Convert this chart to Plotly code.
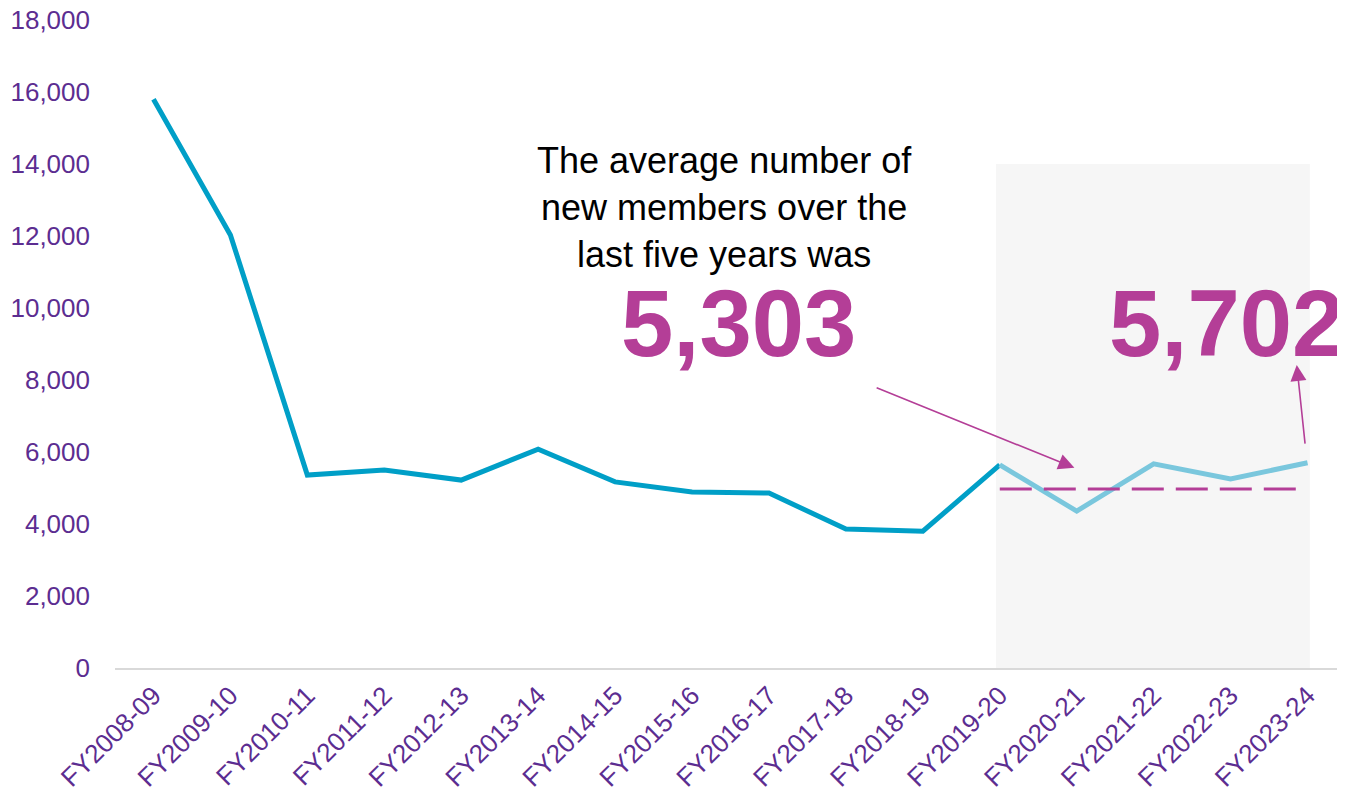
import plotly.graph_objects as go

# data
years = ["FY2008-09", "FY2009-10", "FY2010-11", "FY2011-12", "FY2012-13",
         "FY2013-14", "FY2014-15", "FY2015-16", "FY2016-17", "FY2017-18",
         "FY2018-19", "FY2019-20", "FY2020-21", "FY2021-22", "FY2022-23",
         "FY2023-24"]
new_members = [15800, 12030, 5360, 5500, 5220, 6080, 5170, 4890, 4860, 3860,
               3800, 5640, 4360, 5670, 5250, 5702]
recent_years = years[11:]
recent_members = new_members[11:]
avg_line = [4970] * len(recent_years)
avg_label = "5,303"
latest_label = "5,702"
y_ticks = [0, 2000, 4000, 6000, 8000, 10000, 12000, 14000, 16000, 18000]

PURPLE = "#B43E97"
TICK = "#5C2D91"
FONT = "Liberation Sans, Arial"

fig = go.Figure()

fig.add_trace(go.Scatter(
    x=years[:12], y=new_members[:12], mode="lines",
    line=dict(color="#009FC7", width=5), hoverinfo="skip"
))
fig.add_trace(go.Scatter(
    x=recent_years, y=recent_members, mode="lines",
    line=dict(color="#7AC7DD", width=5), hoverinfo="skip"
))
fig.add_trace(go.Scatter(
    x=recent_years, y=avg_line, mode="lines",
    line=dict(color=PURPLE, width=3, dash="32px,12px"), hoverinfo="skip"
))

# shaded box behind the last five years
fig.add_shape(type="rect", xref="x", yref="y", x0=10.95, x1=15.03,
              y0=0, y1=14000, fillcolor="#F6F6F6", line_width=0, layer="below")

fig.add_annotation(
    x=7.42, y=12780, xref="x", yref="y", showarrow=False,
    text="The average number of<br>new members over the<br>last five years was",
    font=dict(family=FONT, size=36, color="black"),
    align="center"
)
fig.add_annotation(
    x=7.6, y=9560, xref="x", yref="y", showarrow=False, text=avg_label,
    font=dict(family=FONT, size=94, color=PURPLE, weight=900)
)
fig.add_annotation(
    x=12.39, y=9560, xref="x", yref="y", showarrow=False, xanchor="left",
    text=latest_label,
    font=dict(family=FONT, size=94, color=PURPLE, weight=900)
)

# arrows
fig.add_annotation(x=11.97, y=5560, ax=9.38, ay=7800, xref="x", yref="y",
                   axref="x", ayref="y", text="", showarrow=True,
                   arrowhead=2, arrowsize=2, arrowwidth=1.6, arrowcolor=PURPLE)
fig.add_annotation(x=14.86, y=8420, ax=14.97, ay=6190, xref="x", yref="y",
                   axref="x", ayref="y", text="", showarrow=True,
                   arrowhead=2, arrowsize=2, arrowwidth=1.6, arrowcolor=PURPLE)

# the page body adds an 8px offset, so margins are shifted to compensate
fig.update_layout(
    width=1345, height=794,
    margin=dict(l=107, r=7, t=12, b=134),
    paper_bgcolor="white", plot_bgcolor="white",
    showlegend=False,
    font=dict(family=FONT, color=TICK),
)
fig.update_xaxes(
    range=[-0.5, 15.5], tickangle=-45, showgrid=False, automargin=False,
    showline=True, linecolor="#D9D9D9", linewidth=2,
    tickfont=dict(size=26, color=TICK), ticks="", zeroline=False,
    ticklabeloverflow="allow"
)
fig.update_yaxes(
    range=[0, 18000], tickvals=y_ticks, tickformat=",", showgrid=False,
    zeroline=False, showline=False, ticks="", automargin=False,
    tickfont=dict(size=26, color=TICK), ticklabelstandoff=24,
    ticklabeloverflow="allow"
)

fig.write_html("out.html")
